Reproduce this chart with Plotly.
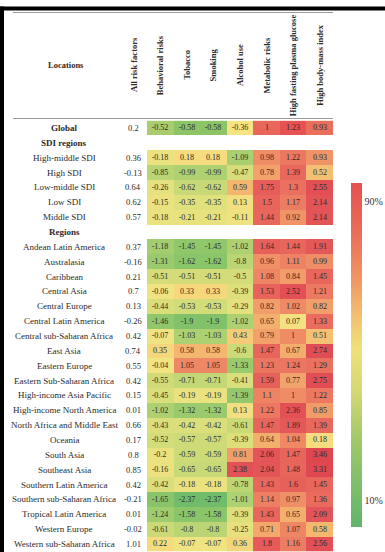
import plotly.graph_objects as go

W, H = 385, 552

locations = [
    "Global", "SDI regions", "High-middle SDI", "High SDI", "Low-middle SDI", "Low SDI",
    "Middle SDI", "Regions", "Andean Latin America", "Australasia", "Caribbean",
    "Central Asia", "Central Europe", "Central Latin America", "Central sub-Saharan Africa",
    "East Asia", "Eastern Europe", "Eastern Sub-Saharan Africa", "High-income Asia Pacific",
    "High-income North America", "North Africa and Middle East", "Oceania", "South Asia",
    "Southeast Asia", "Southern Latin America", "Southern sub-Saharan Africa",
    "Tropical Latin America", "Western Europe", "Western sub-Saharan Africa",
]
bold_rows = ["Global", "SDI regions", "Regions"]

columns = ["Behavioral risks", "Tobacco", "Smoking", "Alcohol use", "Metabolic risks",
           "High fasting plasma glucose", "High body-mass index"]

all_risk = [0.2, None, 0.36, -0.13, 0.64, 0.62, 0.57, None, 0.37, -0.16, 0.21, 0.7, 0.13,
            -0.26, 0.42, 0.74, 0.55, 0.42, 0.15, 0.01, 0.66, 0.17, 0.8, 0.85, 0.42, -0.21,
            0.01, -0.02, 1.01]
behavioral = [-0.52, None, -0.18, -0.85, -0.26, -0.15, -0.18, None, -1.18, -1.31, -0.51,
              -0.06, -0.44, -1.46, -0.07, 0.35, -0.04, -0.55, -0.45, -1.02, -0.43, -0.52,
              -0.2, -0.16, -0.42, -1.65, -1.24, -0.61, 0.22]
tobacco = [-0.58, None, 0.18, -0.99, -0.62, -0.35, -0.21, None, -1.45, -1.62, -0.51, 0.33,
           -0.53, -1.9, -1.03, 0.58, 1.05, -0.71, -0.19, -1.32, -0.42, -0.57, -0.59, -0.65,
           -0.18, -2.37, -1.58, -0.8, -0.07]
smoking = [-0.58, None, 0.18, -0.99, -0.62, -0.35, -0.21, None, -1.45, -1.62, -0.51, 0.33,
           -0.53, -1.9, -1.03, 0.58, 1.05, -0.71, -0.19, -1.32, -0.42, -0.57, -0.59, -0.65,
           -0.18, -2.37, -1.58, -0.8, -0.07]
alcohol = [-0.36, None, -1.09, -0.47, 0.59, 0.13, -0.11, None, -1.02, -0.8, -0.5, -0.39,
           -0.29, -1.02, 0.43, -0.6, -1.33, -0.41, -1.39, 0.13, -0.61, -0.39, 0.81, 2.38,
           -0.78, -1.01, -0.39, -0.25, 0.36]
metabolic = [1, None, 0.98, 0.78, 1.75, 1.5, 1.44, None, 1.64, 0.96, 1.08, 1.53, 0.82, 0.65,
             0.79, 1.47, 1.23, 1.59, 1.1, 1.22, 1.47, 0.64, 2.06, 2.04, 1.43, 1.14, 1.43,
             0.71, 1.8]
fpg = [1.23, None, 1.22, 1.39, 1.3, 1.17, 0.92, None, 1.44, 1.11, 0.84, 2.52, 1.02, 0.07, 1,
       0.67, 1.24, 0.77, 1, 2.36, 1.89, 1.04, 1.47, 1.48, 1.6, 0.97, 0.65, 1.07, 1.16]
bmi = [0.93, None, 0.93, 0.52, 2.55, 2.14, 2.14, None, 1.91, 0.99, 1.45, 1.21, 0.82, 1.33,
       0.51, 2.74, 1.29, 2.75, 1.22, 0.85, 1.39, 0.18, 3.46, 3.31, 1.45, 1.36, 2.09, 0.58,
       2.56]

legend_labels = ["10%", "90%"]

series = [behavioral, tobacco, smoking, alcohol, metabolic, fpg, bmi]
z_all = [[s[i] for s in series] for i in range(len(locations))]

# the Global row carries its own colour scale; the other rows share one
z_global = [row if locations[i] == "Global" else [None] * len(columns)
            for i, row in enumerate(z_all)]
z_rest = [[None] * len(columns) if locations[i] == "Global" else row
          for i, row in enumerate(z_all)]

def texts(z):
    return [["" if v is None else str(v) for v in row] for row in z]

vals = [v for row in z_rest for v in row if v is not None]
zmin, zmax = min(vals), max(vals)

# colour stops expressed in data units (style)
stops_val = [
    (None, (112, 188, 106)),
    (-1.5, (142, 198, 106)),
    (-0.8, (188, 213, 116)),
    (-0.35, (224, 224, 124)),
    (0.0, (244, 228, 130)),
    (0.35, (245, 214, 124)),
    (0.6, (244, 180, 110)),
    (1.0, (239, 140, 102)),
    (1.4, (233, 103, 93)),
    (2.0, (228, 85, 88)),
    ("max", (222, 70, 80)),
]
cscale = []
for v, c in stops_val:
    if v is None:
        p = 0.0
    elif v == "max":
        p = 1.0
    else:
        p = (v - zmin) / (zmax - zmin)
    cscale.append([p, "rgb(%d,%d,%d)" % c])

gvals = sorted(v for row in z_global for v in row if v is not None)
gmin, gmax, gmed = gvals[0], gvals[-1], gvals[len(gvals) // 2]
gscale = [
    [0.0, "rgb(140,196,102)"],
    [(gmed - gmin) / (gmax - gmin), "rgb(245,228,128)"],
    [1.0, "rgb(230,82,84)"],
]

SERIF = "Liberation Serif, Times New Roman, serif"
TXT = "#2b2b2b"

def px(x):
    return x / W

def py(y):
    return 1 - y / H

fig = go.Figure()
fig.add_trace(go.Heatmap(
    z=z_rest, x=columns, y=locations, text=texts(z_rest), texttemplate="%{text}",
    textfont=dict(family=SERIF, size=8, color=TXT),
    colorscale=cscale, zmin=zmin, zmax=zmax, showscale=False,
    xgap=0, ygap=0, hoverinfo="skip",
))
fig.add_trace(go.Heatmap(
    z=z_global, x=columns, y=locations, text=texts(z_global), texttemplate="%{text}",
    textfont=dict(family=SERIF, size=8, color=TXT),
    colorscale=gscale, zmin=gmin, zmax=gmax, showscale=False,
    xgap=0, ygap=0, hoverinfo="skip",
))

# legend colour bar (display only)
bar_scale = [
    [0.0, "rgb(96,180,108)"],
    [0.25, "rgb(160,200,105)"],
    [0.4, "rgb(214,216,116)"],
    [0.52, "rgb(240,224,120)"],
    [0.62, "rgb(242,190,110)"],
    [0.72, "rgb(240,150,100)"],
    [0.85, "rgb(235,110,90)"],
    [1.0, "rgb(229,80,80)"],
]
fig.add_trace(go.Scatter(
    x=[None, None], y=[None, None], mode="markers", hoverinfo="skip", showlegend=False,
    marker=dict(color=[0, 1], cmin=0, cmax=1, colorscale=bar_scale, showscale=True,
                colorbar=dict(
                    x=px(351), xanchor="left", xpad=0, thickness=11,
                    y=py(183), yanchor="top", len=344 / H, lenmode="fraction", ypad=0,
                    outlinewidth=0, ticks="", tickvals=[0.076, 0.945],
                    ticktext=legend_labels,
                    tickfont=dict(family=SERIF, size=10, color="#333333"),
                )),
))

ann = []
for i, name in enumerate(locations):
    label = "<b>%s</b>" % name if name in bold_rows else name
    ann.append(dict(x=px(64), xref="paper", y=name, yref="y", text=label, showarrow=False,
                    font=dict(family=SERIF, size=9, color=TXT), xanchor="center",
                    yanchor="middle"))
    if all_risk[i] is not None:
        ann.append(dict(x=px(133), xref="paper", y=name, yref="y", text=str(all_risk[i]),
                        showarrow=False, font=dict(family=SERIF, size=8.5, color=TXT),
                        xanchor="center", yanchor="middle"))

HF = 8.5
hy = py(65)
ann.append(dict(x=px(66), xref="paper", y=hy, yref="paper", text="<b>Locations</b>",
                xanchor="center", yanchor="middle",
                showarrow=False, font=dict(family=SERIF, size=HF, color=TXT)))
ann.append(dict(x=px(134), xref="paper", y=hy, yref="paper", text="<b>All risk factors</b>",
                xanchor="center", yanchor="middle",
                textangle=-90, showarrow=False, font=dict(family=SERIF, size=HF, color=TXT)))
for c in columns:
    ann.append(dict(x=c, xref="x", y=hy, yref="paper", text="<b>%s</b>" % c, textangle=-90,
                    xanchor="center", yanchor="middle",
                    showarrow=False, font=dict(family=SERIF, size=HF, color=TXT)))

shapes = [
    dict(type="rect", xref="paper", yref="paper", x0=0, x1=1, y0=py(10.5), y1=py(6.5),
         fillcolor="black", line=dict(width=0)),
    dict(type="rect", xref="paper", yref="paper", x0=0, x1=px(4), y0=0, y1=py(6.5),
         fillcolor="black", line=dict(width=0)),
    dict(type="line", xref="paper", yref="paper", x0=px(13), x1=px(333), y0=py(12.5),
         y1=py(12.5), line=dict(color="#9a9a9a", width=1)),
    dict(type="line", xref="paper", yref="paper", x0=px(13), x1=px(333), y0=py(118.5),
         y1=py(118.5), line=dict(color="#9a9a9a", width=1)),
]

fig.update_layout(
    width=W, height=H, margin=dict(l=0, r=0, t=0, b=0),
    paper_bgcolor="white", plot_bgcolor="white",
    xaxis=dict(domain=[px(147), px(333)], range=[-0.5, 6.5], showticklabels=False,
               showgrid=False, zeroline=False, fixedrange=True),
    yaxis=dict(domain=[py(551.5), py(120.6)], range=[28.5, -0.5], showticklabels=False,
               showgrid=False, zeroline=False, fixedrange=True),
    annotations=ann, shapes=shapes, showlegend=False,
)
fig.write_html("out.html")
